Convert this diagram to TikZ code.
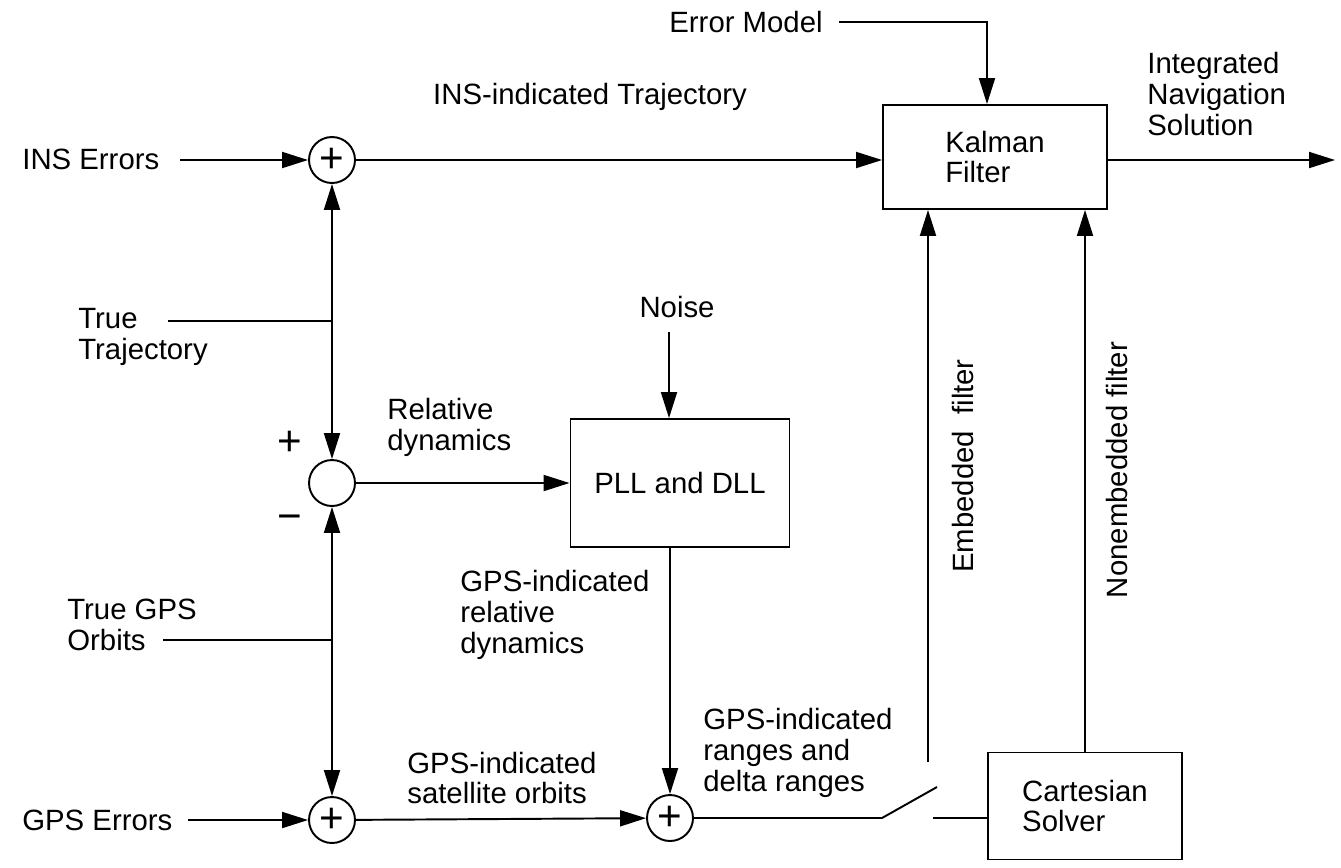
\documentclass[tikz,border=0pt]{standalone}
\usepackage{fontspec}
\setmainfont{Liberation Sans}
\usetikzlibrary{arrows.meta}

\begin{document}
\begin{tikzpicture}[x=0.02cm,y=-0.02cm]
\tikzstyle{every node}=[font=\fontsize{16.7}{17.6}\selectfont]
\tikzstyle{sum}=[draw, circle, line width=1.1pt, minimum size=0.92cm, inner sep=0pt, font=\fontsize{24}{24}\selectfont]
\tikzstyle{block}=[draw, rectangle, line width=1.1pt, align=left]
\tikzstyle{lbl}=[inner sep=0pt, align=left, anchor=west]
\tikzstyle{sign}=[inner sep=0pt, font=\fontsize{24}{24}\selectfont]
\tikzstyle{ln}=[line width=1.1pt]
\tikzstyle{arr}=[line width=1.1pt, -{Triangle[length=0.52cm,width=0.32cm]}]
\useasboundingbox (0,0) rectangle (1341,867);
% summing points and blocks
\node at (332,160) [sum] (s1) {+};
\node at (332,483) [sum] (s2) {};
\node at (332,820) [sum] (s3) {+};
\node at (670,818) [sum] (s4) {+};
\node at (995,157) [block, minimum width=4.48cm, minimum height=2.08cm] (kf) {Kalman\\Filter};
\node at (680,483) [block, minimum width=4.38cm, minimum height=2.56cm] (pll) {PLL and DLL};
\node at (1085,806) [block, minimum width=3.88cm, minimum height=2.14cm] (cs) {Cartesian\\Solver};
% labels
\node at (823,22) [lbl, anchor=east] (errm) {Error Model};
\node at (22,159) [lbl] (inse) {INS Errors};
\node at (78,337) [lbl] (trt) {True\\Trajectory};
\node at (290,443) [sign] (plus) {+};
\node at (290,523) [sign] (minus) {−};
\node at (67,625) [lbl] (tgo) {True GPS\\Orbits};
\node at (22,820) [lbl] (gpse) {GPS Errors};
\node at (590,97) [lbl, anchor=center] (insl) {INS-indicated Trajectory};
\node at (387,427) [lbl] (rel) {Relative\\dynamics};
\node at (677,307) [lbl, anchor=center] (noise) {Noise};
\node at (460,615) [lbl] (grd) {GPS-indicated\\relative\\dynamics};
\node at (407,778) [lbl] (gso) {GPS-indicated\\satellite orbits};
\node at (703,753) [lbl] (grr) {GPS-indicated\\ranges and\\delta ranges};
\node at (1147,94) [lbl] (ins) {Integrated\\Navigation\\Solution};
\node at (963,466) [lbl, anchor=center, rotate=90] (embl) {Embedded\ \ filter};
\node at (1117,470) [lbl, anchor=center, rotate=90] (nembl) {Nonembedded filter};
% free ends and junctions
\coordinate (inso) at (180,160);
\coordinate (emo) at (839,22);
\coordinate (emc) at (987,22);
\coordinate (out) at (1335,160);
\coordinate (tto) at (168,321);
\coordinate (jt) at (332,321);
\coordinate (tgoo) at (163,640);
\coordinate (jg) at (332,640);
\coordinate (gpso) at (188,820);
\coordinate (nso) at (669,332);
\coordinate (sw1) at (882,818);
\coordinate (sw2) at (937,787);
\coordinate (sw3) at (933,818);
\coordinate (emb) at (928,762);
% connectors
\draw[arr] (inso) -- (s1);
\draw[arr] (s1) -- (s1 -| kf.west);
\draw[arr] (emo) -- (emc) -- (emc |- kf.north);
\draw[arr] (kf.east |- out) -- (out);
\draw[ln] (tto) -- (jt);
\draw[arr] (jt) -- (s1);
\draw[arr] (jt) -- (s2);
\draw[arr] (s2) -- (s2 -| pll.west);
\draw[arr] (nso) -- (nso |- pll.north);
\draw[arr] (pll.south -| s4) -- (s4);
\draw[ln] (tgoo) -- (jg);
\draw[arr] (jg) -- (s2);
\draw[arr] (jg) -- (s3);
\draw[arr] (gpso) -- (s3);
\draw[arr] (s3) -- (s4);
\draw[ln] (s4) -- (sw1) -- (sw2);
\draw[ln] (sw3) -- (sw3 -| cs.west);
\draw[arr] (emb) -- (emb |- kf.south);
\draw[arr] (cs.north) -- (cs.north |- kf.south);
\end{tikzpicture}
\end{document}
